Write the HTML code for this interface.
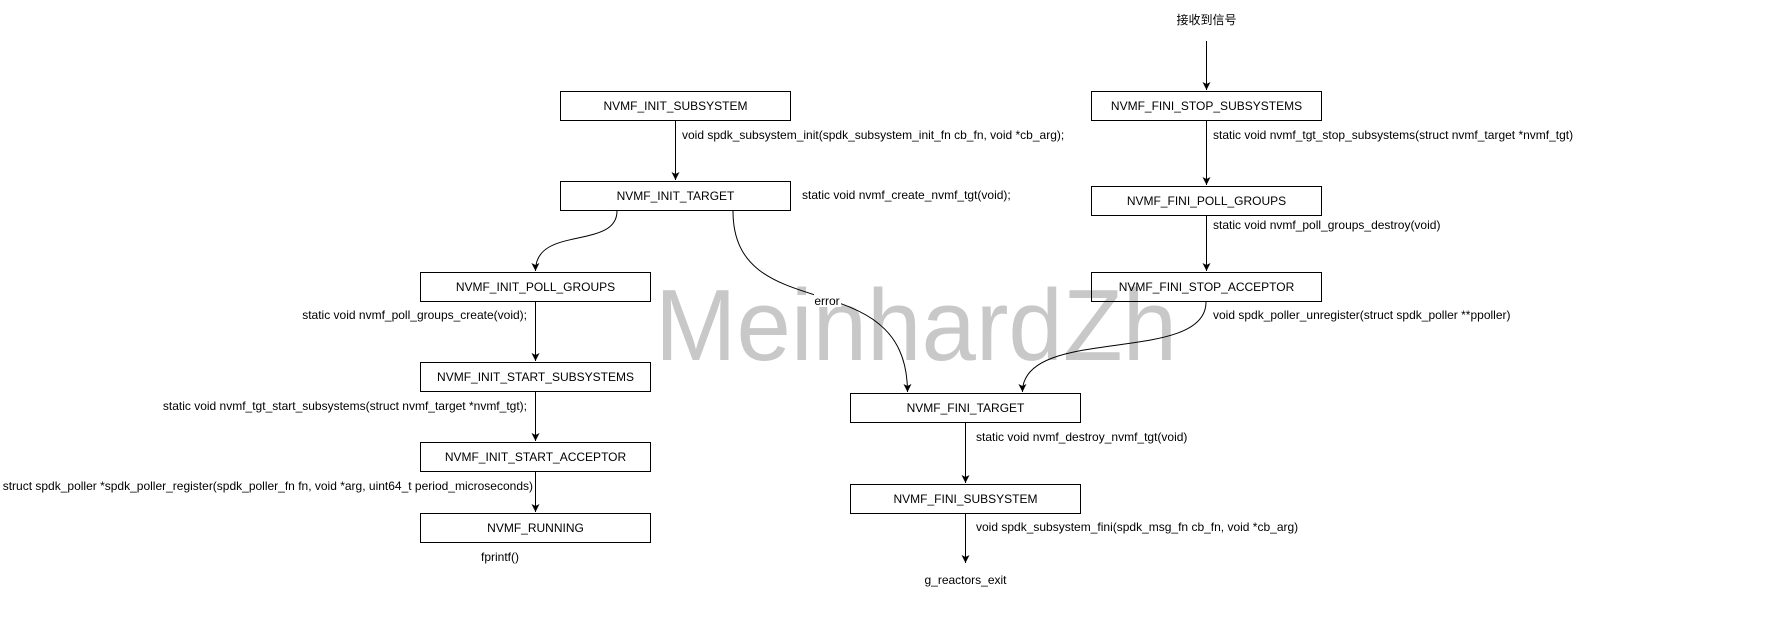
<!DOCTYPE html>
<html><head><meta charset="utf-8"><style>
html,body{margin:0;padding:0;background:#fff;}
svg{display:block;}
text{font-family:"Liberation Sans","Noto Sans CJK SC",sans-serif;font-size:12px;fill:#000;}
</style></head><body>
<svg width="1781" height="622" viewBox="0 0 1781 622" xmlns="http://www.w3.org/2000/svg">
<defs><marker id="a" markerWidth="10" markerHeight="10" refX="8" refY="5" orient="auto" markerUnits="userSpaceOnUse"><path d="M0,1 L8,5 L0,9 L2,5 Z" fill="#000"/></marker></defs>
<text x="655" y="360" textLength="522" lengthAdjust="spacingAndGlyphs" style="font-size:101px;fill:#c8c8c8;">MeinhardZh</text>
<g fill="none" stroke="#000" stroke-width="1">
<rect x="560.5" y="91.5" width="230" height="29"/>
<rect x="560.5" y="181.5" width="230" height="29"/>
<rect x="420.5" y="272.5" width="230" height="29"/>
<rect x="420.5" y="362.5" width="230" height="29"/>
<rect x="420.5" y="442.5" width="230" height="29"/>
<rect x="420.5" y="513.5" width="230" height="29"/>
<rect x="1091.5" y="91.5" width="230" height="29"/>
<rect x="1091.5" y="186.5" width="230" height="29"/>
<rect x="1091.5" y="272.5" width="230" height="29"/>
<rect x="850.5" y="393.5" width="230" height="29"/>
<rect x="850.5" y="484.5" width="230" height="29"/>
<path d="M675.5 121 V180" marker-end="url(#a)"/>
<path d="M617 211 C617 250, 535 225, 535.5 271" marker-end="url(#a)"/>
<path d="M535.5 302 V361" marker-end="url(#a)"/>
<path d="M535.5 392 V441" marker-end="url(#a)"/>
<path d="M535.5 472 V512" marker-end="url(#a)"/>
<path d="M733 211 C733 330, 907 260, 907.5 392" marker-end="url(#a)"/>
<path d="M1206.5 41 V90" marker-end="url(#a)"/>
<path d="M1206.5 121 V185" marker-end="url(#a)"/>
<path d="M1206.5 216 V271" marker-end="url(#a)"/>
<path d="M1206 302 C1206 365, 1022 325, 1022.5 392" marker-end="url(#a)"/>
<path d="M965.5 423 V483" marker-end="url(#a)"/>
<path d="M965.5 514 V563" marker-end="url(#a)"/>
</g>
<rect x="814" y="294" width="27" height="13" fill="#fff"/>
<g text-anchor="middle">
<text x="675.5" y="110">NVMF_INIT_SUBSYSTEM</text>
<text x="675.5" y="200">NVMF_INIT_TARGET</text>
<text x="535.5" y="291">NVMF_INIT_POLL_GROUPS</text>
<text x="535.5" y="381">NVMF_INIT_START_SUBSYSTEMS</text>
<text x="535.5" y="461">NVMF_INIT_START_ACCEPTOR</text>
<text x="535.5" y="532">NVMF_RUNNING</text>
<text x="1206.5" y="110">NVMF_FINI_STOP_SUBSYSTEMS</text>
<text x="1206.5" y="205">NVMF_FINI_POLL_GROUPS</text>
<text x="1206.5" y="291">NVMF_FINI_STOP_ACCEPTOR</text>
<text x="965.5" y="412">NVMF_FINI_TARGET</text>
<text x="965.5" y="503">NVMF_FINI_SUBSYSTEM</text>
<text x="1206.5" y="24">接收到信号</text>
<text x="827" y="305">error</text>
<text x="500" y="561">fprintf()</text>
<text x="965.5" y="584">g_reactors_exit</text>
</g>
<g text-anchor="end">
<text x="527" y="319">static void nvmf_poll_groups_create(void);</text>
<text x="527" y="410">static void nvmf_tgt_start_subsystems(struct nvmf_target *nvmf_tgt);</text>
<text x="533" y="490">struct spdk_poller *spdk_poller_register(spdk_poller_fn fn, void *arg, uint64_t period_microseconds)</text>
</g>
<text x="682" y="139">void spdk_subsystem_init(spdk_subsystem_init_fn cb_fn, void *cb_arg);</text>
<text x="802" y="199">static void nvmf_create_nvmf_tgt(void);</text>
<text x="1213" y="139">static void nvmf_tgt_stop_subsystems(struct nvmf_target *nvmf_tgt)</text>
<text x="1213" y="229">static void nvmf_poll_groups_destroy(void)</text>
<text x="1213" y="319">void spdk_poller_unregister(struct spdk_poller **ppoller)</text>
<text x="976" y="441">static void nvmf_destroy_nvmf_tgt(void)</text>
<text x="976" y="531">void spdk_subsystem_fini(spdk_msg_fn cb_fn, void *cb_arg)</text>
</svg>
</body></html>
